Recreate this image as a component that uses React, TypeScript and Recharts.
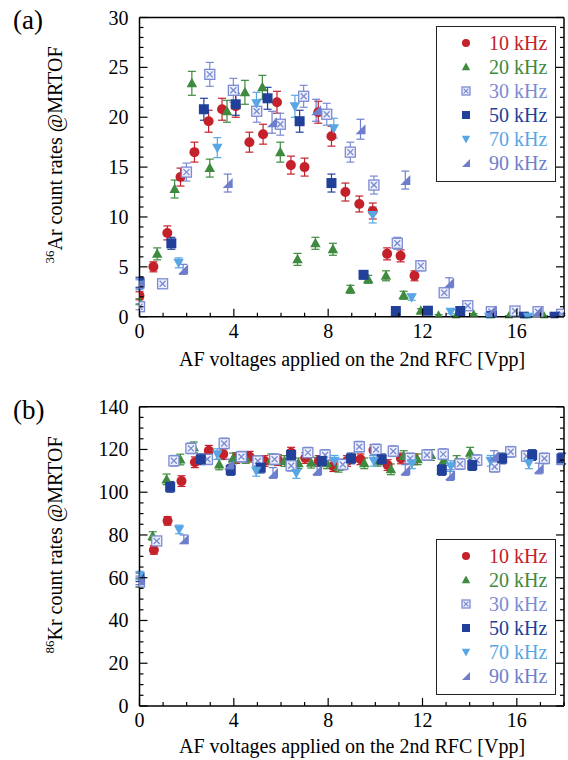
import { ScatterChart, Scatter, XAxis, YAxis, ErrorBar, Legend } from "recharts"

const FONT = "'Liberation Serif', 'Times New Roman', serif"

// [voltage Vpp, count rate, error]
type Pt = [number, number, number]

// ---- (a) 36Ar ----
const ar10: Pt[] = [
  [0, 2.1, 0.4], [0.59, 5.0, 0.5], [1.18, 8.4, 0.7], [1.74, 14.0, 0.9], [2.33, 16.5, 1.0],
  [2.93, 19.6, 1.1], [3.5, 20.8, 1.1], [4.08, 21.1, 1.1], [4.66, 17.5, 1.0], [5.24, 18.3, 1.0],
  [5.83, 21.5, 1.1], [6.42, 15.2, 0.9], [7.0, 15.0, 0.9], [7.58, 20.5, 1.1], [8.14, 18.1, 1.0],
  [8.73, 12.5, 0.9], [9.32, 11.3, 0.8], [9.89, 10.6, 0.8], [10.5, 6.3, 0.6], [11.07, 6.1, 0.6],
  [11.66, 4.1, 0.5],
]
const ar20: Pt[] = [
  [0, 1.5, 0.3], [0.75, 6.3, 0.6], [1.49, 12.8, 0.9], [2.22, 23.4, 1.2], [2.98, 14.9, 0.9],
  [3.71, 20.6, 1.1], [4.47, 22.5, 1.2], [5.21, 23.0, 1.2], [5.97, 16.5, 1.0], [6.7, 5.75, 0.6],
  [7.46, 7.36, 0.6], [8.2, 6.76, 0.6], [8.94, 2.75, 0.4], [9.7, 3.75, 0.4], [10.45, 4.1, 0.5],
  [11.2, 2.15, 0.4], [11.93, 0.6, 0.2], [12.68, 0.1, 0.1], [13.42, 0, 0.1], [14.17, 0.2, 0.1],
  [14.9, 0, 0.1], [15.66, 0, 0.1], [16.4, 0, 0.1], [17.16, 0, 0.1],
]
const ar30: Pt[] = [
  [0, 1.0, 0.3], [0.98, 3.3, 0.4], [1.99, 14.5, 0.9], [2.98, 24.3, 1.2], [3.98, 22.7, 1.2],
  [4.97, 20.6, 1.1], [5.97, 19.3, 1.1], [6.96, 22.1, 1.1], [7.94, 20.3, 1.1], [8.94, 16.5, 1.0],
  [9.94, 13.2, 0.9], [10.93, 7.36, 0.6], [11.93, 5.1, 0.5], [12.92, 2.4, 0.4], [13.92, 1.1, 0.3],
  [14.92, 0.5, 0.2], [15.92, 0.57, 0.2], [16.9, 0.5, 0.2], [17.9, 0.24, 0.1],
]
const ar50: Pt[] = [
  [0, 3.45, 0.5], [1.35, 7.36, 0.6], [2.73, 20.8, 1.1], [4.08, 21.3, 1.1], [5.43, 21.9, 1.1],
  [6.79, 19.6, 1.1], [8.14, 13.4, 0.9], [9.5, 4.2, 0.4], [10.87, 0.57, 0.1], [12.23, 0.6, 0.1],
  [13.6, 0.57, 0.1], [14.93, 0.07, 0.1], [16.3, 0, 0.1], [17.6, 0, 0.1],
]
const ar70: Pt[] = [
  [0, 3.2, 0.5], [1.66, 5.4, 0.5], [3.3, 16.95, 1.0], [4.96, 21.4, 1.1], [6.59, 21.1, 1.1],
  [8.24, 18.9, 1.0], [9.89, 10.2, 0.8], [11.54, 1.95, 0.3], [13.2, 0.5, 0.2], [14.83, 0, 0.1],
  [16.48, 0, 0.1],
]
const ar90: Pt[] = [
  [0, 3.3, 0.5], [1.85, 4.75, 0.5], [3.74, 13.4, 0.9], [5.62, 19.5, 1.1], [7.49, 20.7, 1.1],
  [9.37, 18.8, 1.0], [11.27, 13.7, 0.9], [13.13, 3.4, 0.5], [14.9, 0.6, 0.2], [16.86, 0.54, 0.2],
]

// ---- (b) 86Kr ----
const kr10: Pt[] = [
  [0.61, 73, 2], [1.19, 86.6, 2], [1.78, 105.2, 2.5], [2.35, 114, 2.5], [2.94, 119.4, 2.5],
  [3.55, 117.8, 2.5], [4.1, 116, 2.5], [4.67, 116.6, 2.5], [5.3, 114.6, 2.5], [5.87, 115, 2.5],
  [6.43, 118.5, 2.5], [7.03, 116, 2.5], [7.6, 114.6, 2.5], [8.22, 112.2, 2.5], [8.8, 114.6, 2.5],
  [9.37, 115.4, 2.5], [9.92, 119.7, 2.5], [10.52, 112.7, 2.5], [11.09, 115.8, 2.5], [11.65, 115.4, 2.5],
]
const kr20: Pt[] = [
  [0, 57.5, 2], [0.56, 79.5, 2], [1.15, 106, 2.5], [1.73, 115.3, 2.5], [2.3, 121, 2.5],
  [3.38, 113, 2.5], [3.97, 115.8, 2.5], [4.5, 116, 2.5], [5.59, 115.4, 2.5], [6.15, 114.6, 2.5],
  [6.74, 113.5, 2.5], [7.28, 113.8, 2.5], [7.95, 113.5, 2.5], [8.44, 111.9, 2.5], [9.53, 113.5, 2.5],
  [10.1, 114.7, 2.5], [10.66, 110.7, 2.5], [11.2, 116.9, 2.5], [11.79, 115.4, 2.5], [12.36, 117.4, 2.5],
  [12.9, 115, 2.5], [13.45, 114.6, 2.5], [14.02, 118.5, 2.5],
]
const kr30: Pt[] = [
  [0, 58, 2], [0.73, 77.2, 2], [1.46, 114.7, 2.5], [2.18, 120.5, 2.5], [2.88, 115.4, 2.5],
  [3.59, 122.8, 2.5], [4.32, 116.6, 2.5], [5.02, 114.6, 2.5], [5.73, 115.4, 2.5], [6.43, 112.4, 2.5],
  [7.14, 118.5, 2.5], [7.87, 117.4, 2.5], [8.62, 113, 2.5], [9.32, 121.3, 2.5], [10.03, 120, 2.5],
  [10.76, 119.2, 2.5], [11.48, 115.8, 2.5], [12.19, 117.4, 2.5], [12.88, 117.8, 2.5], [13.59, 113.2, 2.5],
  [14.3, 115, 2.5], [15.06, 111.9, 2.5], [15.74, 118.9, 2.5], [16.41, 116.9, 2.5], [17.17, 115.8, 2.5],
  [17.9, 115.4, 2.5],
]
const kr50: Pt[] = [
  [0, 60.2, 2], [1.3, 102.5, 2.5], [2.6, 115.4, 2.5], [3.87, 110.4, 2.5], [5.14, 111.5, 2.5],
  [6.43, 117.4, 2.5], [7.73, 114.6, 2.5], [8.97, 115.8, 2.5], [10.27, 115.4, 2.5], [12.82, 110.4, 2.5],
  [14.11, 112.7, 2.5], [15.38, 115.8, 2.5], [16.65, 117.4, 2.5], [17.92, 115.8, 2.5],
]
const kr70: Pt[] = [
  [0, 61, 2], [1.68, 82.6, 2], [3.3, 117.8, 2.5], [4.95, 110, 2.5], [6.65, 109, 2.5],
  [8.27, 114.7, 2.5], [9.93, 114.7, 2.5], [11.55, 113.5, 2.5], [13.2, 112.2, 2.5], [14.89, 114.7, 2.5],
  [16.51, 113.5, 2.5],
]
const kr90: Pt[] = [
  [0, 58.8, 2], [1.88, 78, 2], [3.8, 113, 2.5], [5.66, 109, 2.5], [7.53, 110.4, 2.5],
  [11.27, 110.4, 2.5], [13.17, 108, 2.5], [15.03, 116.9, 2.5], [16.93, 111.1, 2.5],
]

// ticks
const xTicks = [0, 1, 2, 3, 4, 5, 6, 7, 8, 9, 10, 11, 12, 13, 14, 15, 16, 17, 18]
const xLabels = [0, 4, 8, 12, 16]
const arYTicks = [
  0, 1, 2, 3, 4, 5, 6, 7, 8, 9, 10, 11, 12, 13, 14, 15, 16, 17, 18, 19, 20,
  21, 22, 23, 24, 25, 26, 27, 28, 29, 30,
]
const arYLabels = [0, 5, 10, 15, 20, 25, 30]
const krYTicks = [0, 5, 10, 15, 20, 25, 30, 35, 40, 45, 50, 55, 60, 65, 70, 75, 80, 85, 90, 95, 100, 105, 110, 115, 120, 125, 130, 135, 140]
const krYLabels = [0, 20, 40, 60, 80, 100, 120, 140]

const seriesNames = ["10 kHz", "20 kHz", "30 kHz", "50 kHz", "70 kHz", "90 kHz"]

const styles = [
  { color: "#c4212b", kind: "circle" },
  { color: "#3e8a3e", kind: "up" },
  { color: "#7b8bd3", kind: "crossSq" },
  { color: "#21409a", kind: "square" },
  { color: "#58a6e4", kind: "down" },
  { color: "#6e7ecc", kind: "wedge" },
]

const toRows = (pts: Pt[]) => pts.map(([x, y, err]) => ({ x, y, err }))

function Marker({ kind, cx, cy, s, color }: { kind: string; cx: number; cy: number; s: number; color: string }) {
  const h = s / 2
  switch (kind) {
    case "circle":
      return <circle cx={cx} cy={cy} r={h} fill={color} />
    case "up":
      return <polygon points={`${cx},${cy - h * 1.1} ${cx - h * 1.05},${cy + h * 0.8} ${cx + h * 1.05},${cy + h * 0.8}`} fill={color} />
    case "down":
      return <polygon points={`${cx},${cy + h * 1.1} ${cx - h * 1.05},${cy - h * 0.8} ${cx + h * 1.05},${cy - h * 0.8}`} fill={color} />
    case "square":
      return <rect x={cx - h} y={cy - h} width={s} height={s} fill={color} />
    case "crossSq":
      return (
        <g stroke={color} strokeWidth={1.3} fill="#eef1fb">
          <rect x={cx - h} y={cy - h} width={s} height={s} />
          <line x1={cx - h * 0.6} y1={cy - h * 0.6} x2={cx + h * 0.6} y2={cy + h * 0.6} />
          <line x1={cx - h * 0.6} y1={cy + h * 0.6} x2={cx + h * 0.6} y2={cy - h * 0.6} />
        </g>
      )
    case "wedge":
      return <polygon points={`${cx - h},${cy + h} ${cx + h},${cy + h} ${cx + h},${cy - h}`} fill={color} />
    default:
      return null
  }
}

function Tick(props: any) {
  const { x, y, payload, side, majors, label } = props
  const v = payload.value
  const major = majors.includes(v)
  const len = major ? 8 : 4
  let x2 = x
  let y2 = y
  if (side === "bottom") y2 = y - len
  if (side === "top") y2 = y + len
  if (side === "left") x2 = x + len
  if (side === "right") x2 = x - len
  return (
    <g>
      <line x1={x} y1={y} x2={x2} y2={y2} stroke="#000" strokeWidth={1.2} />
      {label && major && side === "bottom" && (
        <text x={x} y={y + 21} textAnchor="middle" fontSize={20} fontFamily={FONT} fill="#000">
          {v}
        </text>
      )}
      {label && major && side === "left" && (
        <text x={x - 11} y={y + 7} textAnchor="end" fontSize={20} fontFamily={FONT} fill="#000">
          {v}
        </text>
      )}
    </g>
  )
}

function LegendBox() {
  return (
    <div
      style={{
        width: 120,
        height: 156,
        border: "1.5px solid #222",
        background: "#fff",
        boxSizing: "border-box",
        paddingTop: 4,
        fontFamily: FONT,
        fontSize: 20,
      }}
    >
      {seriesNames.map((name, i) => (
        <div key={name} style={{ display: "flex", alignItems: "center", height: 24, color: styles[i].color }}>
          <svg width={52} height={24} style={{ display: "block" }}>
            <Marker kind={styles[i].kind} cx={29} cy={12} s={8} color={styles[i].color} />
          </svg>
          <span style={{ lineHeight: "24px" }}>{name}</span>
        </div>
      ))}
    </div>
  )
}

function Panel({
  sets,
  yMax,
  yTicks,
  yLabels,
  margin,
  legendTop,
}: {
  sets: Pt[][]
  yMax: number
  yTicks: number[]
  yLabels: number[]
  margin: { top: number; right: number; bottom: number; left: number }
  legendTop: number
}) {
  const axisLine = { stroke: "#000", strokeWidth: 1.5 }
  return (
    <ScatterChart width={568} height={380} margin={margin}>
      <XAxis
        type="number"
        dataKey="x"
        domain={[0, 18]}
        ticks={xTicks}
        interval={0}
        height={1}
        tickSize={0}
        tickMargin={0}
        tickLine={false}
        axisLine={axisLine}
        tick={(p: any) => <Tick {...p} side="bottom" majors={xLabels} label />}
        allowDataOverflow
      />
      <XAxis
        xAxisId="top"
        orientation="top"
        type="number"
        domain={[0, 18]}
        ticks={xTicks}
        interval={0}
        height={1}
        tickSize={0}
        tickMargin={0}
        tickLine={false}
        axisLine={axisLine}
        tick={(p: any) => <Tick {...p} side="top" majors={xLabels} />}
        allowDataOverflow
      />
      <YAxis
        type="number"
        dataKey="y"
        domain={[0, yMax]}
        ticks={yTicks}
        interval={0}
        width={1}
        tickSize={0}
        tickMargin={0}
        tickLine={false}
        axisLine={axisLine}
        tick={(p: any) => <Tick {...p} side="left" majors={yLabels} label />}
        allowDataOverflow
      />
      <YAxis
        yAxisId="right"
        orientation="right"
        type="number"
        domain={[0, yMax]}
        ticks={yTicks}
        interval={0}
        width={1}
        tickSize={0}
        tickMargin={0}
        tickLine={false}
        axisLine={axisLine}
        tick={(p: any) => <Tick {...p} side="right" majors={yLabels} />}
        allowDataOverflow
      />
      {sets.map((pts, i) => (
        <Scatter
          key={seriesNames[i]}
          name={seriesNames[i]}
          data={toRows(pts)}
          isAnimationActive={false}
          shape={(p: any) => <Marker kind={styles[i].kind} cx={p.cx} cy={p.cy} s={10} color={styles[i].color} />}
        >
          <ErrorBar dataKey="err" direction="y" width={4} stroke={styles[i].color} strokeWidth={1.2} />
        </Scatter>
      ))}
      <Legend
        layout="vertical"
        align="center"
        verticalAlign="middle"
        content={() => <LegendBox />}
        wrapperStyle={{ position: "absolute", left: 436, top: legendTop, width: 120, height: 156 }}
      />
    </ScatterChart>
  )
}

export default function App() {
  return (
    <div style={{ position: "absolute", left: 0, top: 0, width: 568, height: 760, background: "#fff" }}>
      <div style={{ position: "absolute", left: 0, top: 0 }}>
        <Panel
          sets={[ar10, ar20, ar30, ar50, ar70, ar90]}
          yMax={30}
          yTicks={arYTicks}
          yLabels={arYLabels}
          margin={{ top: 16.5, right: 3, bottom: 62.3, left: 138.5 }}
          legendTop={26}
        />
      </div>
      <div style={{ position: "absolute", left: 0, top: 380 }}>
        <Panel
          sets={[kr10, kr20, kr30, kr50, kr70, kr90]}
          yMax={140}
          yTicks={krYTicks}
          yLabels={krYLabels}
          margin={{ top: 25.7, right: 3, bottom: 53, left: 138.5 }}
          legendTop={159}
        />
      </div>
      <svg
        width={568}
        height={760}
        style={{ position: "absolute", left: 0, top: 0, pointerEvents: "none" }}
        fontFamily={FONT}
        fill="#000"
      >
        <text x={13} y={29} fontSize={27}>(a)</text>
        <text x={13} y={419} fontSize={27}>(b)</text>
        <text x={352} y={366} fontSize={20} textAnchor="middle">
          AF voltages applied on the 2nd RFC [Vpp]
        </text>
        <text x={352} y={753} fontSize={20} textAnchor="middle">
          AF voltages applied on the 2nd RFC [Vpp]
        </text>
        <text x={55} y={162} textAnchor="middle" transform="rotate(-90, 55, 155)">
          <tspan fontSize={13} dy={-8}>36</tspan>
          <tspan fontSize={20} dy={8}>Ar count rates @MRTOF</tspan>
        </text>
        <text x={55} y={552} textAnchor="middle" transform="rotate(-90, 55, 545)">
          <tspan fontSize={13} dy={-8}>86</tspan>
          <tspan fontSize={20} dy={8}>Kr count rates @MRTOF</tspan>
        </text>
      </svg>
    </div>
  )
}
